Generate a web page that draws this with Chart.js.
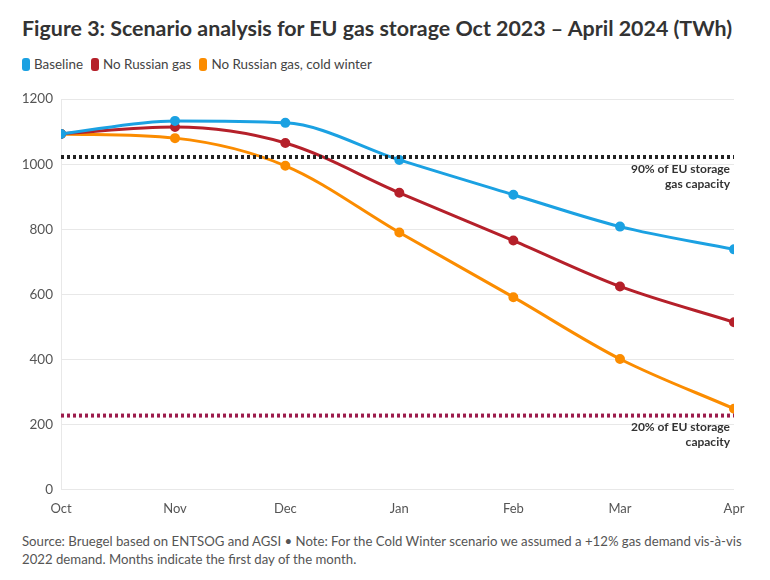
<!DOCTYPE html>
<html>
<head>
<meta charset="utf-8">
<script src="https://cdn.jsdelivr.net/npm/chart.js@4"></script>
<style>
  body { margin:0; background:#fff; font-family: Lato, sans-serif; }
  #title { position:absolute; left:22px; top:15px; font-size:21.4px; font-weight:bold; color:#333; white-space:nowrap; }
  #legend { position:absolute; left:22px; top:56px; font-size:13.4px; color:#444; white-space:nowrap; }
  #legend span.sw { display:inline-block; width:8px; height:13px; border-radius:3px; vertical-align:-2px; margin-right:4px; }
  #legend span.it { margin-right:8px; }
  #wrap { position:absolute; left:0; top:83px; width:770px; height:438px; }
  #foot { position:absolute; left:22px; top:532px; font-size:13.2px; color:#555; line-height:18px; width:730px; }
</style>
</head>
<body>
<div id="title">Figure 3: Scenario analysis for EU gas storage Oct 2023 – April 2024 (TWh)</div>
<div id="legend"></div>
<div id="wrap"><canvas id="c"></canvas></div>
<div id="foot">Source: Bruegel based on ENTSOG and AGSI • Note: For the Cold Winter scenario we assumed a +12% gas demand vis-à-vis 2022 demand. Months indicate the first day of the month.</div>
<script>
// days since 1 Oct 2023 for the first day of each month
const DAYS = [0, 31, 61, 92, 123, 152, 183];
const MONTHS = ['Oct','Nov','Dec','Jan','Feb','Mar','Apr'];
const baseline = [1093, 1133, 1127, 1013, 906, 808, 738];
const noRussian = [1093, 1114, 1065, 912, 765, 624, 514];
const coldWinter = [1093, 1080, 995, 790, 591, 401, 248];
const cap90 = 1022;
const cap20 = 227;

const C = { blue:'#1ba1e2', red:'#b5202a', orange:'#fb8c00', text:'#555', grid:'#e8e8e8' };

const series = [
  { label:'Baseline', data:baseline, color:C.blue },
  { label:'No Russian gas', data:noRussian, color:C.red },
  { label:'No Russian gas, cold winter', data:coldWinter, color:C.orange }
];

document.getElementById('legend').innerHTML = series.map(s =>
  `<span class="it"><span class="sw" style="background:${s.color}"></span>${s.label}</span>`).join('');

const pts = arr => arr.map((v, i) => ({ x: DAYS[i], y: v }));
const flat = v => [{ x: DAYS[0], y: v }, { x: DAYS[DAYS.length - 1], y: v }];

const labelsPlugin = {
  id: 'capLabels',
  afterDatasetsDraw(chart) {
    const { ctx, scales: { x, y } } = chart;
    const xr = x.getPixelForValue(DAYS[DAYS.length - 1]) - 4;
    ctx.save();
    ctx.font = 'bold 12px Lato, sans-serif';
    ctx.fillStyle = '#333';
    ctx.textAlign = 'right';
    ctx.textBaseline = 'middle';
    let y0 = y.getPixelForValue(cap90);
    ctx.fillText('90% of EU storage', xr, y0 + 12);
    ctx.fillText('gas capacity', xr, y0 + 27);
    y0 = y.getPixelForValue(cap20);
    ctx.fillText('20% of EU storage', xr, y0 + 12);
    ctx.fillText('capacity', xr, y0 + 27);
    ctx.restore();
  }
};

new Chart(document.getElementById('c'), {
  type: 'line',
  data: {
    datasets: [
      { label:'90%', data: flat(cap90), borderColor:'#222', borderWidth:4, borderDash:[3,3], pointRadius:0, tension:0 },
      { label:'20%', data: flat(cap20), borderColor:'#9c1c4c', borderWidth:4, borderDash:[3,3], pointRadius:0, tension:0 },
      ...series.map(s => ({
        label: s.label, data: pts(s.data), borderColor: s.color, backgroundColor: s.color,
        borderWidth: 3, pointRadius: 3.5, pointHoverRadius: 4, cubicInterpolationMode: 'monotone'
      }))
    ]
  },
  options: {
    responsive: true, maintainAspectRatio: false, animation: false,
    layout: { padding: { top: 5, right: 36, left: 0, bottom: 0 } },
    plugins: { legend: { display: false }, tooltip: { enabled: false } },
    scales: {
      x: {
        type: 'linear', min: 0, max: 183,
        afterBuildTicks: axis => { axis.ticks = DAYS.map(v => ({ value: v })); },
        ticks: { color: C.text, font: { size: 13, family: 'Lato' }, padding: 4,
          callback: v => MONTHS[DAYS.indexOf(v)], autoSkip: false, maxRotation: 0 },
        grid: { display: false },
        border: { display: false }
      },
      y: {
        min: 0, max: 1200,
        ticks: { stepSize: 200, color: C.text, font: { size: 13.5, family: 'Lato' }, padding: 8,
          callback: v => String(v) },
        grid: { color: C.grid, drawTicks: false },
        border: { display: true, color: C.grid },
        afterFit: axis => { axis.width = 61; }
      }
    }
  },
  plugins: [labelsPlugin]
});
</script>
</body>
</html>
